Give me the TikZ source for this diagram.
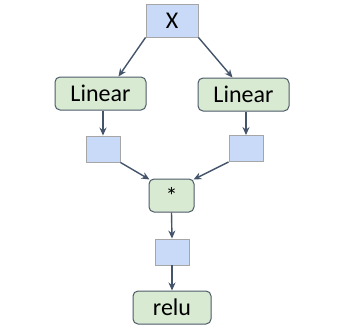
\documentclass[tikz,border=0pt]{standalone}
\usepackage{fontspec}
\setmainfont{Carlito}
\usetikzlibrary{arrows.meta}

\definecolor{tensorfill}{HTML}{C9DAF8}
\definecolor{tensoredge}{HTML}{A6A6A6}
\definecolor{opfill}{HTML}{D9EAD3}
\definecolor{opedge}{HTML}{4D5A68}
\definecolor{flowcol}{HTML}{44546A}

\begin{document}
\begin{tikzpicture}[x=1pt,y=-1pt,
  tensor/.style={draw=tensoredge,fill=tensorfill,line width=0.9pt,
    minimum width=34pt,minimum height=26pt,inner sep=0pt},
  op/.style={draw=opedge,fill=opfill,rounded corners=5pt,line width=1pt,
    minimum height=33pt,inner sep=0pt,font=\fontsize{24}{26}\selectfont},
  flow/.style={draw=flowcol,line width=1.4pt,-{Stealth[length=8pt,width=7pt]}}]
\useasboundingbox (0,0) rectangle (342,329);

% input
\node[tensor,minimum width=52pt,minimum height=33pt,
  font=\fontsize{24}{26}\selectfont] (x) at (172,20.5) {X};

% two linear layers
\node[op,minimum width=91pt] (linL) at (100.5,93.5) {Linear};
\node[op,minimum width=91pt] (linR) at (243.5,94.5) {Linear};
\node[tensor] (outL) at (103,149) {};
\node[tensor] (outR) at (246,148.5) {};

% product and relu
\node[op,minimum width=45pt] (mul) at (171.5,195.5) {*};
\node[tensor] (prod) at (172,252) {};
\node[op,minimum width=78pt] (relu) at (172,307.5) {relu};

\draw[flow] (x.south west) -- ([xshift=18pt]linL.north);
\draw[flow] (x.south east) -- ([xshift=-11pt]linR.north);
\draw[flow] ([xshift=2.5pt]linL.south) -- (outL.north);
\draw[flow] ([xshift=2.5pt]linR.south) -- (outR.north);
\draw[flow] (outL.south east) -- ([xshift=1pt,yshift=-1pt]mul.north west);
\draw[flow] (outR.south west) -- ([xshift=-1pt,yshift=-1pt]mul.north east);
\draw[flow] (mul.south) -- (prod.north);
\draw[flow] (prod.south) -- (relu.north);

\end{tikzpicture}
\end{document}
